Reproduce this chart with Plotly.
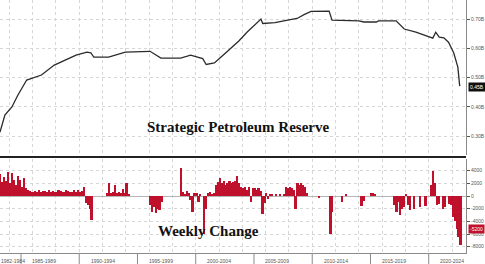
import plotly.graph_objects as go

# ---------------- data ----------------
# SPR level (billion barrels)
spr_year = [1983.2, 1983.62, 1984.22, 1984.73, 1985.49, 1986.76, 1987.86, 1989.73, 1990.66, 1991.0,
            1991.25, 1992.52, 1993.96, 1996.08, 1997.01, 1998.71, 1999.56, 2000.15, 2000.6, 2000.9,
            2001.6, 2002.3, 2003.0, 2003.7, 2004.4, 2005.2, 2005.6, 2005.75, 2006.8, 2008.0,
            2008.7, 2009.3, 2009.9, 2011.45, 2011.7, 2014.0, 2014.45, 2015.5, 2015.7, 2017.2,
            2017.9, 2018.9, 2019.9, 2020.35, 2020.6, 2020.9, 2021.3, 2021.7, 2022.15, 2022.5, 2022.66]
spr_level = [0.314, 0.372, 0.400, 0.440, 0.492, 0.509, 0.543, 0.577, 0.587, 0.585,
             0.570, 0.570, 0.587, 0.590, 0.567, 0.567, 0.577, 0.570, 0.565, 0.545,
             0.550, 0.575, 0.600, 0.625, 0.655, 0.685, 0.700, 0.685, 0.688, 0.697,
             0.702, 0.715, 0.726, 0.727, 0.696, 0.694, 0.690, 0.690, 0.694, 0.694,
             0.666, 0.655, 0.642, 0.635, 0.655, 0.638, 0.636, 0.621, 0.584, 0.536, 0.471]

# Weekly change (thousand barrels), sampled six times a year starting 1983
change_start_year = 1983
weekly_change = [
    2800, 3500, 2200, 3000, 2400, 3800,      # 1983
    2000, 3600, 2600, 1800, 3200, 2500,      # 1984
    1500, 2900, 1200, 900, 800, 700,         # 1985
    700, 800, 600, 900, 700, 800,            # 1986
    800, 700, 900, 600, 800, 700,            # 1987
    700, 900, 800, 700, 600, 900,            # 1988
    800, 600, 700, 900, 700, 1000,           # 1989
    600, 800, 1500, -1100, -1500, -2000,     # 1990
    -3800, 0, 0, 0, 0, 0,                    # 1991
    0, 0, 400, 2000, 500, 600,               # 1992
    1800, 500, 700, 400, 1100, 500,          # 1993
    2100, 300, 0, 0, 0, 0,                   # 1994
    0, 0, 0, 0, 0, 0,                        # 1995
    -1500, -2500, -1800, -2700, -2000, -2200,  # 1996
    -1000, 0, 0, 0, 0, 0,                    # 1997
    0, 0, 0, 0, 4500, 600,                   # 1998
    300, 800, 500, -600, -2500, 500,         # 1999
    500, -1000, 300, 0, -6000, -2000,        # 2000
    400, 600, 300, 500, 1800, 2200,          # 2001
    2900, 2000, 2300, 1800, 2100, 2400,      # 2002
    2000, 2200, 2400, 3200, 2000, 1500,      # 2003
    1200, 1400, 1000, 1500, -1000, 1300,     # 2004
    1200, 1000, 1300, 800, -2900, -1100,     # 2005
    500, -500, 300, 200, 0, 200,             # 2006
    0, 200, 0, 300, 1500, 1200,              # 2007
    1500, 1300, 1000, -2000, 2000, 1800,     # 2008
    2000, 1800, 1500, 400, 0, 0,             # 2009
    0, 0, 0, -300, 0, 0,                     # 2010
    0, 0, 0, -6000, -2500, 0,                # 2011
    0, 0, 0, -1000, 0, 300,                  # 2012
    0, 0, 0, 0, 0, 0,                        # 2013
    0, -1600, -800, 0, 0, 0,                 # 2014
    500, 500, 300, 0, 0, 0,                  # 2015
    0, 0, 0, 0, 0, 0,                        # 2016
    -1500, -2500, -1000, -3000, -2000, -1800,  # 2017
    300, -1500, -2200, 0, -2000, 0,          # 2018
    0, -1700, 0, 0, -1600, 0,                # 2019
    0, 1700, 4000, 2000, -1500, -1200,       # 2020
    0, -2000, -1800, 0, -1200, -1500,        # 2021
    -3300, -4000, -5200, -6500, -7800,       # 2022
]

period_labels = ["1982-1984", "1985-1989", "1990-1994", "1995-1999", "2000-2004",
                 "2005-2009", "2010-2014", "2015-2019", "2020-2024"]
period_label_year = [1983.2, 1987.0, 1992.0, 1997.0, 2002.0, 2007.0, 2012.0, 2017.0, 2022.0]
period_bounds = [1985, 1990, 1995, 2000, 2005, 2010, 2015, 2020]

top_ticks = [0.30, 0.40, 0.50, 0.60, 0.70]
top_tick_text = ["0.30B", "0.40B", "0.50B", "0.60B", "0.70B"]
bot_ticks = [4000, 2000, 0, -2000, -4000, -6000, -8000]
bot_tick_text = ["4000", "2000", "0", "-2000", "-4000", "-6000", "-8000"]

last_level_label = "0.45B"
last_change_label = "-5200"
last_change_label_value = -5200

# ---------------- figure ----------------
x_range = [1983.2, 2023.2]
bar_x = [change_start_year + i / 6 + 1 / 12 for i in range(len(weekly_change))]

fig = go.Figure()
fig.add_trace(go.Scatter(x=spr_year, y=spr_level, mode="lines",
                         line=dict(color="#2b2b2b", width=1.3),
                         xaxis="x", yaxis="y", showlegend=False, hoverinfo="skip"))
fig.add_trace(go.Bar(x=bar_x, y=weekly_change, width=1 / 6 * 0.9,
                     marker=dict(color="#c0112c", line=dict(width=0)),
                     xaxis="x2", yaxis="y2", showlegend=False, hoverinfo="skip"))

grid = dict(showgrid=True, gridcolor="#d6d6d6", griddash="dot", gridwidth=1)

top_dom = [0.387, 1.0]
bot_dom = [0.0, 0.3715]

fig.update_layout(
    width=485, height=264,
    margin=dict(l=0, r=13, t=0, b=11),
    paper_bgcolor="white", plot_bgcolor="white",
    bargap=0,
    xaxis=dict(domain=[0, 1], range=x_range, anchor="y", tick0=1982, dtick=2,
               showticklabels=False, ticks="", zeroline=False, showline=False, **grid),
    xaxis2=dict(domain=[0, 1], range=x_range, anchor="y2", tick0=1982, dtick=2,
                showticklabels=False, ticks="", zeroline=False,
                showline=True, linecolor="#8a8a8a", linewidth=1, **grid),
    yaxis=dict(domain=top_dom, range=[0.2358, 0.765], side="right", anchor="x",
               tickvals=top_ticks, ticktext=top_tick_text, ticks="outside", ticklen=3,
               tickcolor="#555", tickfont=dict(size=5, color="#555", family="Arial"),
               showline=True, linecolor="#8a8a8a", zeroline=False, **grid),
    yaxis2=dict(domain=bot_dom, range=[-9000, 5842], side="right", anchor="x2",
                tickvals=bot_ticks, ticktext=bot_tick_text, ticks="outside", ticklen=3,
                tickcolor="#555", tickfont=dict(size=5, color="#555", family="Arial"),
                showline=True, linecolor="#8a8a8a", zeroline=True, zerolinecolor="#b5b5b5",
                zerolinewidth=1, **grid),
)

shapes = [dict(type="line", xref="paper", yref="paper", x0=0, x1=1, y0=0.379, y1=0.379,
               line=dict(color="#222", width=2))]
for b in period_bounds:
    shapes.append(dict(type="line", xref="x2", yref="paper", x0=b, x1=b, y0=0, y1=-0.045,
                       line=dict(color="#8a8a8a", width=1)))
fig.update_layout(shapes=shapes)

ann = [
    dict(text="<b>Strategic Petroleum Reserve</b>", xref="paper", yref="paper", x=0.51, y=0.498,
         showarrow=False, font=dict(family="Liberation Serif", size=15, color="#111")),
    dict(text="<b>Weekly Change</b>", xref="paper", yref="paper", x=0.447, y=0.047,
         showarrow=False, font=dict(family="Liberation Serif", size=15, color="#111")),
    dict(text=last_level_label, xref="paper", yref="y", x=1.004, y=spr_level[-1] - 0.003,
         xanchor="left", showarrow=False, bgcolor="#111", borderpad=1,
         font=dict(size=5, color="white", family="Arial")),
    dict(text=last_change_label, xref="paper", yref="y2", x=1.004, y=last_change_label_value,
         xanchor="left", showarrow=False, bgcolor="#c0112c", borderpad=1,
         font=dict(size=5, color="white", family="Arial")),
]
for i, (lab, yr) in enumerate(zip(period_labels, period_label_year)):
    ann.append(dict(text=lab, xref="x2", yref="paper", x=yr, y=-0.03, yanchor="middle",
                    xanchor="left" if i == 0 else "center", xshift=-1 if i == 0 else 0,
                    showarrow=False, font=dict(size=5, color="#555", family="Arial")))
fig.update_layout(annotations=ann)

fig.write_html("out.html")
